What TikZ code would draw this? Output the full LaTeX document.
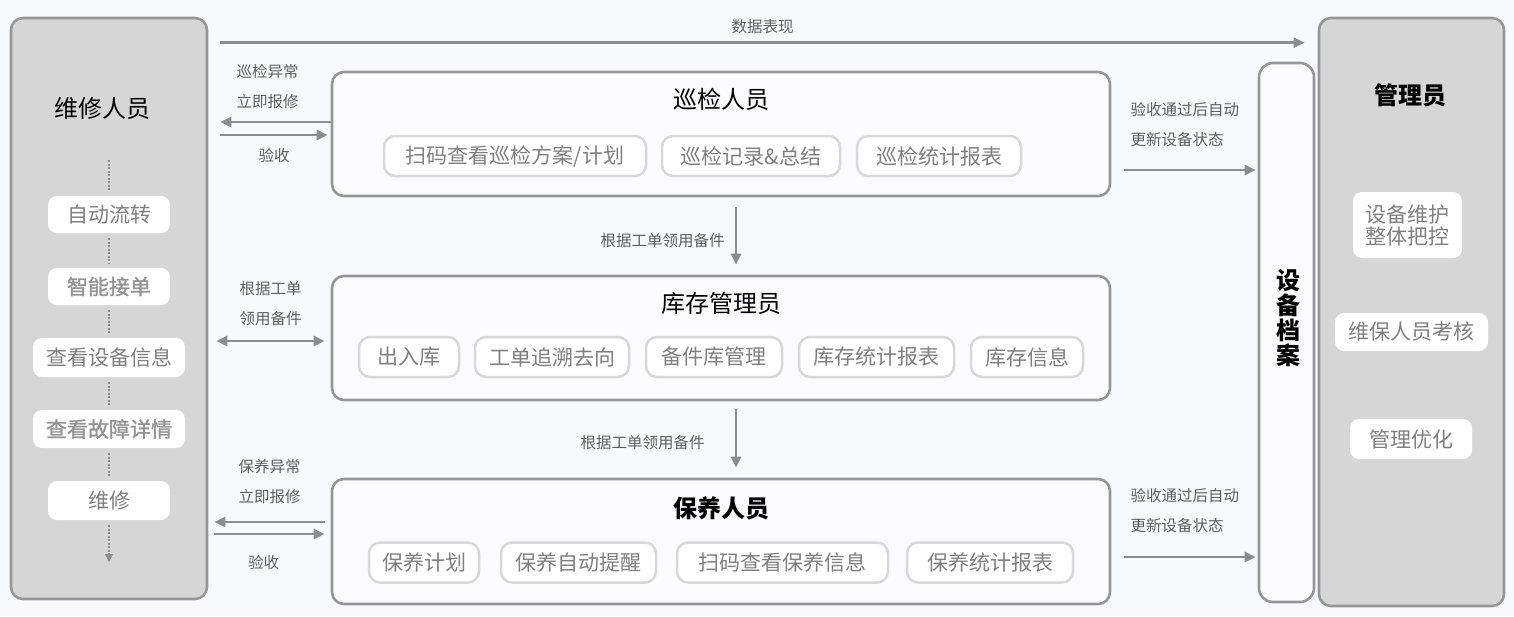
\documentclass[tikz,border=0pt]{standalone}
\usepackage{fontspec}
\usepackage{tikz}
\usetikzlibrary{arrows.meta,calc,positioning}
\newfontfamily\cjk{Noto Sans CJK SC}
\newfontfamily\cjksemi[FakeBold=1.2]{Noto Sans CJK SC}
\definecolor{paper}{RGB}{248, 249, 253}
\definecolor{panelgray}{RGB}{214, 214, 214}
\definecolor{edgegray}{RGB}{150, 150, 150}
\definecolor{chipedge}{RGB}{216, 216, 216}
\definecolor{chipink}{RGB}{128, 128, 128}
\definecolor{flowgray}{RGB}{140, 140, 140}
\definecolor{noteink}{RGB}{95, 95, 95}
\tikzset{
  panel/.style={draw=edgegray, fill=panelgray, line width=2.6pt, rounded corners=12pt, inner sep=0pt},
  lane/.style={draw=edgegray, fill=white!40!paper, line width=2.6pt, rounded corners=12pt, inner sep=0pt},
  chip/.style={draw=chipedge, fill=white, line width=2.5pt, rounded corners=11pt, inner sep=0pt,
               minimum height=40pt, text=chipink, font=\cjk\fontsize{21}{24}\selectfont},
  tag/.style={fill=white, rounded corners=9pt, inner sep=0pt, align=center,
              text=chipink, font=\cjk\fontsize{21}{22}\selectfont},
  tagbold/.style={tag, text=chipink!85, font=\cjksemi\fontsize{21}{22}\selectfont},
  head/.style={inner sep=0pt, text=black, font=\cjk\fontsize{24}{26}\selectfont},
  headbold/.style={inner sep=0pt, text=black, font=\cjk\bfseries\fontsize{24}{25}\selectfont},
  note/.style={inner sep=0pt, align=center, text=noteink, font=\cjk\fontsize{15.5}{30}\selectfont},
  flow/.style={draw=flowgray, line width=2.6pt, -{Triangle[length=11pt,width=10pt]}},
  trail/.style={draw=flowgray, line width=1.3pt, dash pattern=on 2pt off 1.5pt, shorten <=5pt, shorten >=5pt},
}

\begin{document}
\begin{tikzpicture}[x=1pt, y=-1pt]
            \fill[paper] (0,0) rectangle (1514,616);
            % side panels and archive column
            \node[panel, minimum width=196pt, minimum height=581pt] (repair)  at (109.0, 308.5) {};
            \node[panel, minimum width=185pt, minimum height=588pt] (manager) at (1411.5, 312.0) {};
            \node[lane,  minimum width=55pt,  minimum height=539pt, rounded corners=14pt] (archive) at (1286.5, 332.5) {};
            \node[head]     (repairhead)  at (102, 108) {维修人员};
            \node[headbold] (managerhead) at (1410, 95) {管理员};
            \node[headbold, align=center] (archivehead) at (1288, 318) {设\\备\\档\\案};
            % repair steps
            \node[tag,     minimum width=122pt, minimum height=37pt] (lc1) at (109, 214.5) {自动流转};
            \node[tagbold, minimum width=122pt, minimum height=37pt] (lc2) at (109, 286.5) {智能接单};
            \node[tag,     minimum width=152pt, minimum height=39pt] (lc3) at (109, 357.5) {查看设备信息};
            \node[tagbold, minimum width=152pt, minimum height=38pt] (lc4) at (109, 429.0) {查看故障详情};
            \node[tag,     minimum width=122pt, minimum height=39pt] (lc5) at (109, 500.5) {维修};
            \coordinate (trailtop) at (109, 160);
            \coordinate (trailend) at (109, 562);
            \draw[trail, shorten <=0pt] (trailtop) -- (lc1);
            \draw[trail] (lc1) -- (lc2);
            \draw[trail] (lc2) -- (lc3);
            \draw[trail] (lc3) -- (lc4);
            \draw[trail] (lc4) -- (lc5);
            \draw[trail, shorten >=0pt, -{Triangle[length=8pt,width=8pt]}] (lc5) -- (trailend);
            % manager tasks
            \node[tag, minimum width=109pt, minimum height=66pt] (rc1) at (1407.5, 225) {设备维护\\整体把控};
            \node[tag, minimum width=153pt, minimum height=38pt] (rc2) at (1411.5, 332) {维保人员考核};
            \node[tag, minimum width=122pt, minimum height=40pt] (rc3) at (1411.0, 439) {管理优化};
            % role lanes
            \node[lane, minimum width=778pt, minimum height=124pt] (patrol) at (721, 134.0) {};
            \node[lane, minimum width=778pt, minimum height=124pt] (stock)  at (721, 338.0) {};
            \node[lane, minimum width=778pt, minimum height=125pt] (maint)  at (721, 541.5) {};
            \node[head]     (patrolhead) at (721,  99) {巡检人员};
            \node[head]     (stockhead)  at (721, 303) {库存管理员};
            \node[headbold] (mainthead)  at (721, 508) {保养人员};
            \node[chip, minimum width=262pt] (pc1) at (515.0, 156) {扫码查看巡检方案/计划};
            \node[chip, minimum width=178pt] (pc2) at (751.0, 156) {巡检记录\&总结};
            \node[chip, minimum width=164pt] (pc3) at (939.0, 156) {巡检统计报表};
            \node[chip, minimum width=100pt] (sc1) at (409.0, 357) {出入库};
            \node[chip, minimum width=154pt] (sc2) at (552.0, 357) {工单追溯去向};
            \node[chip, minimum width=136pt] (sc3) at (714.0, 357) {备件库管理};
            \node[chip, minimum width=155pt] (sc4) at (876.5, 357) {库存统计报表};
            \node[chip, minimum width=112pt] (sc5) at (1027.0, 357) {库存信息};
            \node[chip, minimum width=110pt] (mc1) at (424.0, 562.5) {保养计划};
            \node[chip, minimum width=155pt] (mc2) at (578.5, 562.5) {保养自动提醒};
            \node[chip, minimum width=211pt] (mc3) at (782.5, 562.5) {扫码查看保养信息};
            \node[chip, minimum width=166pt] (mc4) at (990.0, 562.5) {保养统计报表};
            % flows
            \draw[flow] ($(repair.north east)+(12,26)$) -- ($(manager.north west)+(-13,26)$)
                 node[note, midway, above=8pt] (datanote) {数据表现};
            \draw[flow] ([yshift=12pt]patrol.west) -- ($(repair.east |- patrol.west)+(12,-12)$)
                 node[note, midway, above=11.5pt, xshift=-8pt] (patrolnote) {巡检异常\\立即报修};
            \draw[flow] ($(repair.east |- patrol.west)+(12,1)$) -- ([yshift=-1pt,xshift=-3pt]patrol.west)
                 node[note, midway, below=12.5pt] (patrolcheck) {验收};
            \draw[flow, {Triangle[length=11pt,width=10pt]}-{Triangle[length=11pt,width=10pt]}]
                 ($(repair.east |- stock.west)+(8,3)$) -- ([yshift=-3pt,xshift=-6pt]stock.west)
                 node[note, midway, above=13.5pt] (stocknote) {根据工单\\领用备件};
            \draw[flow] ([yshift=19.5pt,xshift=-6pt]maint.west) -- ($(repair.east |- maint.west)+(6,-19.5)$)
                 node[note, midway, above=16.5pt] (maintnote) {保养异常\\立即报修};
            \draw[flow] ($(repair.east |- maint.west)+(6,-7.5)$) -- ([yshift=7.5pt,xshift=-6pt]maint.west)
                 node[note, midway, below=20.5pt, xshift=-6pt] (maintcheck) {验收};
            \draw[flow] ($(patrol.south)+(15,10)$) -- ($(stock.north)+(15,-10)$)
                 node[note, midway, left=10pt, yshift=-5pt] (patrolstock) {根据工单领用备件};
            \draw[flow] ($(stock.south)+(15,8)$) -- ($(maint.north)+(15,-10)$)
                 node[note, midway, left=30pt, yshift=-4.5pt] (stockmaint) {根据工单领用备件};
            \draw[flow] ($(patrol.east)+(13,36)$) -- ($(archive.west |- patrol.east)+(-2,36)$)
                 node[note, pos=0, align=left, above right=21.5pt and 5pt] (patrolfile) {验收通过后自动\\更新设备状态};
            \draw[flow] ($(maint.east)+(13,15.5)$) -- ($(archive.west |- maint.east)+(-2,15.5)$)
                 node[note, pos=0, align=left, above right=22.5pt and 5pt] (maintfile) {验收通过后自动\\更新设备状态};
\end{tikzpicture}
\end{document}
